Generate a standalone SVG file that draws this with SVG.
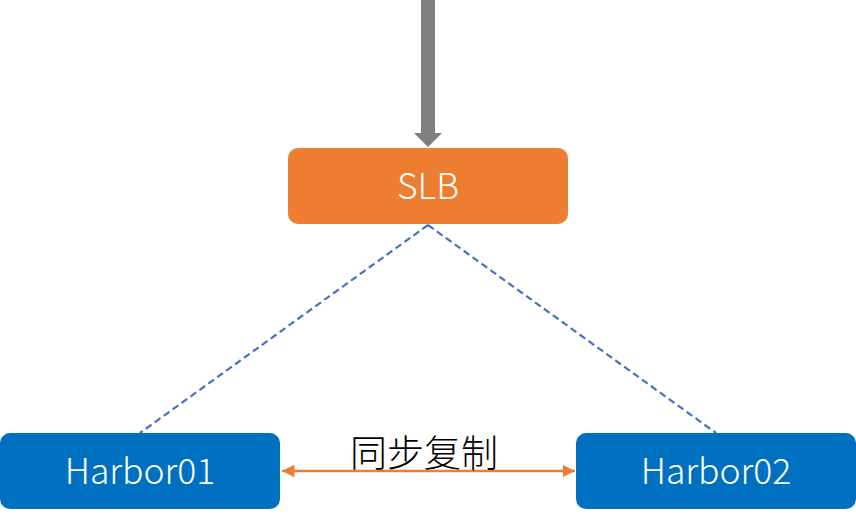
<svg xmlns="http://www.w3.org/2000/svg" width="856" height="517" viewBox="0 0 856 517">
<style>
.lbl{font-family:"Noto Sans CJK SC","Noto Sans",sans-serif;font-weight:300;font-size:35.5px;fill:#ffffff;text-anchor:middle}
.dash{stroke:#4472C4;stroke-width:2.2;stroke-dasharray:7,4;fill:none}
</style>
<defs>
<marker id="oa" viewBox="0 0 10 10" refX="10" refY="5" markerWidth="5" markerHeight="5" orient="auto-start-reverse" markerUnits="strokeWidth">
<path d="M0,0 L10,5 L0,10 z" fill="#ED7D31"/>
</marker>
</defs>
<rect width="856" height="517" fill="#ffffff"/>
<g id="connectors">
<path d="M421,0 H435 V133 H442 L428,147 L414,133 H421 Z" fill="#7F7F7F"/>
<line class="dash" x1="428" y1="225" x2="140" y2="433"/>
<line class="dash" x1="428" y1="225" x2="716" y2="433"/>
<line x1="282" y1="471" x2="575" y2="471" stroke="#ED7D31" stroke-width="2.5" marker-start="url(#oa)" marker-end="url(#oa)"/>
<text x="424" y="467" font-family="Noto Sans CJK SC,sans-serif" font-weight="300" font-size="37" fill="#000000" text-anchor="middle">同步复制</text>
</g>
<g id="slb">
<rect x="288" y="148" width="280" height="76" rx="10" fill="#ED7D31"/>
<text class="lbl" x="428" y="199">SLB</text>
</g>
<g id="harbor01">
<rect x="0" y="433" width="280" height="76" rx="10" fill="#0070C0"/>
<text class="lbl" x="140" y="484">Harbor01</text>
</g>
<g id="harbor02">
<rect x="576" y="433" width="280" height="76" rx="10" fill="#0070C0"/>
<text class="lbl" x="716" y="484">Harbor02</text>
</g>
</svg>
